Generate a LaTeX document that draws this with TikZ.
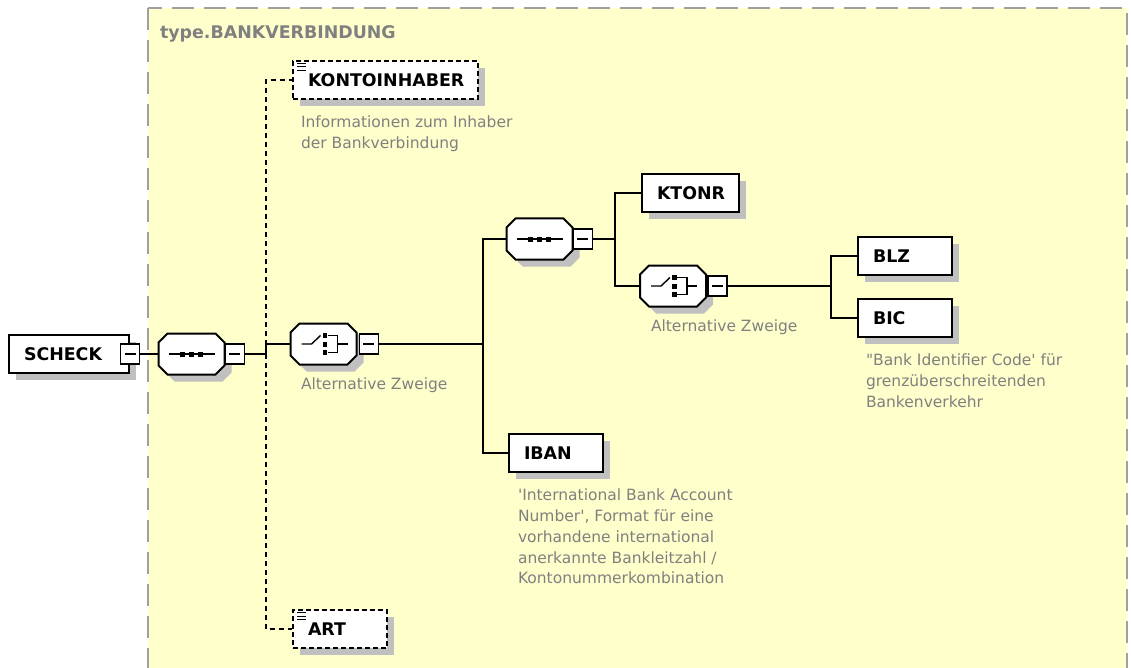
\documentclass[tikz,border=0pt]{standalone}
\usepackage{fontspec}
\setmainfont{DejaVu Sans}
\usetikzlibrary{positioning,shadows}
\definecolor{paneyellow}{HTML}{FFFFCC}
\definecolor{paneline}{HTML}{A0A0A0}
\definecolor{shadegray}{HTML}{C0C0C0}
\definecolor{notegray}{HTML}{808080}

\begin{document}
\begin{tikzpicture}[x=1pt, y=-1pt, line width=2pt,
  castshadow/.style={drop shadow={shadow xshift=7pt, shadow yshift=-7pt, fill=shadegray, opacity=1}},
  elem/.style={draw, fill=white, castshadow, line width=2pt, anchor=west,
    font=\fontsize{17.4}{20}\selectfont\bfseries, minimum height=38pt,
    inner xsep=15pt, inner ysep=0pt, text width=#1, align=left},
  elem/.default=64pt,
  optelem/.style={elem=#1, dash pattern=on 5pt off 3pt,
    path picture={\foreach \k in {2.5,6,9.5}
      \draw[line width=1pt, solid] ([xshift=4pt, yshift=-\k pt]path picture bounding box.north west) -- ++(9pt,0pt);}},
  optelem/.default=64pt,
  comp/.style={minimum width=64pt, minimum height=39pt, inner sep=0pt,
    append after command={\pgfextra{\let\compnode\tikzlastnode
      \draw[castshadow, fill=white, line width=2pt]
        ([xshift=9pt]\compnode.north west) -- ([xshift=-9pt]\compnode.north east)
        -- ([yshift=-9pt]\compnode.north east) -- ([yshift=9pt]\compnode.south east)
        -- ([xshift=-9pt]\compnode.south east) -- ([xshift=9pt]\compnode.south west)
        -- ([yshift=9pt]\compnode.south west) -- ([yshift=-9pt]\compnode.north west) -- cycle;}}},
  minus/.style={draw, fill=white, line width=1.5pt, minimum width=19pt, minimum height=20pt, inner sep=0pt,
    path picture={\draw[line width=1.3pt] ([xshift=4pt]path picture bounding box.west) -- ([xshift=-4pt]path picture bounding box.east);}},
  note/.style={anchor=north west, inner sep=0pt, align=left, text=notegray,
    font=\fontsize{15.5}{20.75}\selectfont},
  optline/.style={dash pattern=on 5pt off 4pt},
  pics/seqmark/.style={code={
    \draw[line width=1.4pt] (-23,0) -- (23,0);
    \foreach \u in {-9,0,9} \fill (\u-2.5,-2.5) rectangle (\u+2.5,2.5);}},
  pics/choicemark/.style={code={
    \draw[line width=1.4pt] (-22,0) -- (-12,0) -- (-3,-8.5);
    \foreach \v in {-8.5,0,8.5} \fill (-1,\v-2.5) rectangle (3.5,\v+2.5);
    \draw[line width=1.4pt] (4,-8.5) -- (14,-8.5) -- (14,8.5) -- (4,8.5) (14,0) -- (24,0);}}]
\useasboundingbox (0,0) rectangle (1131,668);
\clip (0,0) rectangle (1131,668);
\fill[white] (0,0) rectangle (1131,668);
% pane of the complex type
\draw[paneline, line width=2pt, dash pattern=on 22pt off 10pt, fill=paneyellow] (148,8) rectangle (1127,700);
\node[anchor=base west, inner sep=0pt, text=notegray, font=\fontsize{17.4}{20}\selectfont\bfseries] (title) at (159,39) {type.BANKVERBINDUNG};

% elements and compositors
\node[elem=90pt] (scheck) at (8,354) {SCHECK};
\node[minus] (mScheck) at (scheck.east) {};
\node[comp] (seqA) at (191.5,354) {};
\node[minus, right=0pt of seqA] (mSeqA) {};
\node[comp] (choiceA) at (323.5,344) {};
\node[minus, right=2pt of choiceA] (mChoiceA) {};
\node[optelem=155pt] (konto) at (292,80) {KONTOINHABER};
\node[optelem] (art) at (292,629) {ART};
\node[comp] (seqB) at (539.5,239) {};
\node[minus, right=0pt of seqB] (mSeqB) {};
\node[elem] (iban) at (508,453) {IBAN};
\node[elem=67pt] (ktonr) at (641,193) {KTONR};
\node[comp] (choiceB) at (673,286) {};
\node[minus, right=1pt of choiceB] (mChoiceB) {};
\node[elem] (blz) at (857,256) {BLZ};
\node[elem] (bic) at (857,318) {BIC};

\pic at (seqA) {seqmark};
\pic at (seqB) {seqmark};
\pic at (choiceA) {choicemark};
\pic at (choiceB) {choicemark};

% annotations
\node[note] (dKonto) at ([xshift=8pt, yshift=-15pt]konto.south west) {Informationen zum Inhaber\\der Bankverbindung};
\node[note] (dChoiceA) at ([xshift=-23.5pt, yshift=-12pt]choiceA.south) {Alternative Zweige};
\node[note] (dChoiceB) at ([xshift=-23pt, yshift=-12pt]choiceB.south) {Alternative Zweige};
\node[note] (dBic) at ([xshift=8pt, yshift=-15pt]bic.south west) {\textquotedbl Bank Identifier Code\textquotesingle{} für\\grenzüberschreitenden\\Bankenverkehr};
\node[note] (dIban) at ([xshift=9pt, yshift=-15pt]iban.south west) {\textquotesingle International Bank Account\\Number\textquotesingle, Format für eine\\vorhandene international\\anerkannte Bankleitzahl /\\Kontonummerkombination};

% connectors
\coordinate (jA) at ([xshift=20.5pt]mSeqA.east);
\coordinate (jB) at ([xshift=103.5pt]mChoiceA.east);
\coordinate (jC) at ([xshift=21.5pt]mSeqB.east);
\coordinate (jD) at ([xshift=103pt]mChoiceB.east);
\draw (mScheck.east) -- (seqA.west);
\draw (mSeqA.east) -- (jA) |- (choiceA.west);
\draw[optline] (jA) |- (konto.west);
\draw[optline] (jA) |- (art.west);
\draw (mChoiceA.east) -- (jB) |- (seqB.west);
\draw (jB) |- (iban.west);
\draw (mSeqB.east) -- (jC) |- (ktonr.west);
\draw (jC) |- (choiceB.west);
\draw (mChoiceB.east) -- (jD) |- (blz.west);
\draw (jD) |- (bic.west);
\end{tikzpicture}
\end{document}
